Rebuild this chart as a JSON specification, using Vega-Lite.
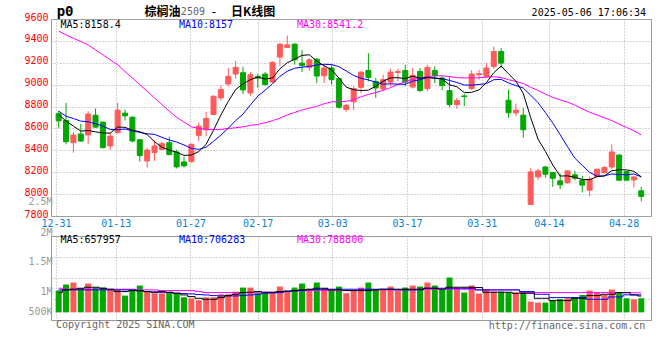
{
"$schema":"https://vega.github.io/schema/vega-lite/v6.json",
"background":"white",
"padding":{"left":0,"top":4,"right":5,"bottom":5},
"bounds":"flush",
"spacing":20,
"config":{"view":{"stroke":"#999999","strokeWidth":1},"font":"DejaVu Sans Mono","axis":{"labelOverlap":false}},
"datasets":{"k":[
{"i":0,"d":"12-31","o":8734,"c":8670,"h":8760,"l":8606,"v":878000,"m5":8727,"m10":8758,"m30":9490,"vm5":797000,"vm10":905000,"vm30":972000},
{"i":1,"d":"01-02","o":8673,"c":8479,"h":8834,"l":8455,"v":1121000,"m5":8667,"m10":8712,"m30":9455,"vm5":905000,"vm10":905000,"vm30":932000},
{"i":2,"d":"01-03","o":8470,"c":8540,"h":8567,"l":8379,"v":1202000,"m5":8621,"m10":8691,"m30":9424,"vm5":932000,"vm10":905000,"vm30":932000},
{"i":3,"d":"01-06","o":8549,"c":8485,"h":8643,"l":8476,"v":972000,"m5":8576,"m10":8667,"m30":9394,"vm5":972000,"vm10":905000,"vm30":932000},
{"i":4,"d":"01-07","o":8540,"c":8731,"h":8758,"l":8455,"v":1161000,"m5":8581,"m10":8661,"m30":9364,"vm5":1013000,"vm10":905000,"vm30":932000},
{"i":5,"d":"01-08","o":8721,"c":8612,"h":8782,"l":8606,"v":999000,"m5":8569,"m10":8643,"m30":9318,"vm5":1013000,"vm10":905000,"vm30":932000},
{"i":6,"d":"01-09","o":8658,"c":8425,"h":8660,"l":8418,"v":999000,"m5":8559,"m10":8621,"m30":9273,"vm5":972000,"vm10":905000,"vm30":932000},
{"i":7,"d":"01-10","o":8440,"c":8530,"h":8561,"l":8403,"v":905000,"m5":8557,"m10":8591,"m30":9227,"vm5":932000,"vm10":905000,"vm30":932000},
{"i":8,"d":"01-13","o":8561,"c":8767,"h":8834,"l":8555,"v":905000,"m5":8613,"m10":8588,"m30":9182,"vm5":837000,"vm10":905000,"vm30":932000},
{"i":9,"d":"01-14","o":8740,"c":8715,"h":8773,"l":8673,"v":675000,"m5":8610,"m10":8595,"m30":9121,"vm5":837000,"vm10":905000,"vm30":932000},
{"i":10,"d":"01-15","o":8703,"c":8485,"h":8709,"l":8473,"v":905000,"m5":8584,"m10":8577,"m30":9061,"vm5":878000,"vm10":905000,"vm30":932000},
{"i":11,"d":"01-16","o":8497,"c":8352,"h":8500,"l":8297,"v":1080000,"m5":8570,"m10":8564,"m30":9000,"vm5":864000,"vm10":878000,"vm30":905000},
{"i":12,"d":"01-17","o":8303,"c":8403,"h":8424,"l":8243,"v":864000,"m5":8544,"m10":8551,"m30":8940,"vm5":837000,"vm10":837000,"vm30":905000},
{"i":13,"d":"01-20","o":8379,"c":8440,"h":8491,"l":8303,"v":770000,"m5":8479,"m10":8546,"m30":8879,"vm5":810000,"vm10":824000,"vm30":905000},
{"i":14,"d":"01-21","o":8409,"c":8461,"h":8480,"l":8400,"v":770000,"m5":8428,"m10":8519,"m30":8818,"vm5":837000,"vm10":810000,"vm30":878000},
{"i":15,"d":"01-22","o":8470,"c":8361,"h":8524,"l":8355,"v":824000,"m5":8403,"m10":8494,"m30":8758,"vm5":810000,"vm10":797000,"vm30":878000},
{"i":16,"d":"01-23","o":8385,"c":8249,"h":8406,"l":8234,"v":770000,"m5":8383,"m10":8476,"m30":8703,"vm5":770000,"vm10":770000,"vm30":878000},
{"i":17,"d":"01-24","o":8294,"c":8258,"h":8343,"l":8243,"v":608000,"m5":8354,"m10":8449,"m30":8658,"vm5":702000,"vm10":756000,"vm30":878000},
{"i":18,"d":"01-27","o":8297,"c":8455,"h":8461,"l":8288,"v":567000,"m5":8357,"m10":8418,"m30":8615,"vm5":635000,"vm10":743000,"vm30":878000},
{"i":19,"d":"02-05","o":8537,"c":8621,"h":8652,"l":8485,"v":486000,"m5":8389,"m10":8409,"m30":8600,"vm5":567000,"vm10":716000,"vm30":837000},
{"i":20,"d":"02-06","o":8588,"c":8691,"h":8752,"l":8530,"v":608000,"m5":8455,"m10":8429,"m30":8591,"vm5":527000,"vm10":702000,"vm30":797000},
{"i":21,"d":"02-07","o":8727,"c":8894,"h":8903,"l":8721,"v":608000,"m5":8584,"m10":8483,"m30":8588,"vm5":527000,"vm10":675000,"vm30":797000},
{"i":22,"d":"02-10","o":8879,"c":8955,"h":8994,"l":8855,"v":729000,"m5":8723,"m10":8539,"m30":8591,"vm5":594000,"vm10":662000,"vm30":797000},
{"i":23,"d":"02-11","o":9006,"c":9076,"h":9152,"l":8985,"v":729000,"m5":8847,"m10":8602,"m30":8600,"vm5":675000,"vm10":662000,"vm30":797000},
{"i":24,"d":"02-12","o":9097,"c":9158,"h":9218,"l":9055,"v":837000,"m5":8955,"m10":8672,"m30":8606,"vm5":729000,"vm10":662000,"vm30":797000},
{"i":25,"d":"02-13","o":9109,"c":8952,"h":9164,"l":8915,"v":999000,"m5":9007,"m10":8731,"m30":8615,"vm5":797000,"vm10":675000,"vm30":797000},
{"i":26,"d":"02-14","o":8924,"c":9091,"h":9115,"l":8900,"v":999000,"m5":9046,"m10":8815,"m30":8628,"vm5":810000,"vm10":702000,"vm30":797000},
{"i":27,"d":"02-17","o":9076,"c":9061,"h":9097,"l":8970,"v":770000,"m5":9068,"m10":8895,"m30":8637,"vm5":837000,"vm10":729000,"vm30":810000},
{"i":28,"d":"02-18","o":9097,"c":9000,"h":9115,"l":8994,"v":770000,"m5":9052,"m10":8950,"m30":8652,"vm5":810000,"vm10":770000,"vm30":810000},
{"i":29,"d":"02-19","o":9024,"c":9203,"h":9212,"l":9015,"v":810000,"m5":9061,"m10":9008,"m30":8671,"vm5":810000,"vm10":783000,"vm30":810000},
{"i":30,"d":"02-20","o":9252,"c":9370,"h":9379,"l":9170,"v":1040000,"m5":9145,"m10":9076,"m30":8694,"vm5":837000,"vm10":797000,"vm30":837000},
{"i":31,"d":"02-21","o":9340,"c":9364,"h":9449,"l":9334,"v":837000,"m5":9200,"m10":9123,"m30":8724,"vm5":864000,"vm10":837000,"vm30":837000},
{"i":32,"d":"02-24","o":9370,"c":9227,"h":9379,"l":9182,"v":999000,"m5":9233,"m10":9150,"m30":8746,"vm5":878000,"vm10":864000,"vm30":864000},
{"i":33,"d":"02-25","o":9197,"c":9176,"h":9318,"l":9115,"v":1161000,"m5":9268,"m10":9160,"m30":8769,"vm5":905000,"vm10":878000,"vm30":864000},
{"i":34,"d":"02-26","o":9158,"c":9227,"h":9242,"l":9127,"v":945000,"m5":9273,"m10":9167,"m30":8786,"vm5":932000,"vm10":905000,"vm30":878000},
{"i":35,"d":"02-27","o":9233,"c":9079,"h":9242,"l":9015,"v":1202000,"m5":9215,"m10":9180,"m30":8802,"vm5":972000,"vm10":918000,"vm30":878000},
{"i":36,"d":"02-28","o":9082,"c":9152,"h":9182,"l":9015,"v":972000,"m5":9172,"m10":9186,"m30":8826,"vm5":972000,"vm10":932000,"vm30":878000},
{"i":37,"d":"03-03","o":9152,"c":9046,"h":9182,"l":9000,"v":905000,"m5":9136,"m10":9184,"m30":8843,"vm5":905000,"vm10":932000,"vm30":878000},
{"i":38,"d":"03-04","o":9055,"c":8794,"h":9067,"l":8782,"v":1040000,"m5":9060,"m10":9164,"m30":8844,"vm5":905000,"vm10":932000,"vm30":878000},
{"i":39,"d":"03-05","o":8773,"c":8812,"h":8824,"l":8752,"v":770000,"m5":8977,"m10":9125,"m30":8847,"vm5":878000,"vm10":932000,"vm30":878000},
{"i":40,"d":"03-06","o":8843,"c":8964,"h":8985,"l":8767,"v":864000,"m5":8954,"m10":9084,"m30":8863,"vm5":878000,"vm10":932000,"vm30":878000},
{"i":41,"d":"03-07","o":8976,"c":9115,"h":9121,"l":8924,"v":999000,"m5":8946,"m10":9059,"m30":8889,"vm5":878000,"vm10":932000,"vm30":905000},
{"i":42,"d":"03-10","o":9130,"c":9066,"h":9288,"l":9030,"v":1202000,"m5":8950,"m10":9043,"m30":8911,"vm5":878000,"vm10":932000,"vm30":905000},
{"i":43,"d":"03-11","o":9030,"c":8970,"h":9061,"l":8879,"v":905000,"m5":8985,"m10":9023,"m30":8928,"vm5":905000,"vm10":932000,"vm30":905000},
{"i":44,"d":"03-12","o":8961,"c":9046,"h":9091,"l":8940,"v":905000,"m5":9032,"m10":9004,"m30":8948,"vm5":932000,"vm10":932000,"vm30":905000},
{"i":45,"d":"03-13","o":9024,"c":9115,"h":9146,"l":8985,"v":1040000,"m5":9062,"m10":9008,"m30":8973,"vm5":932000,"vm10":932000,"vm30":905000},
{"i":46,"d":"03-14","o":9112,"c":9121,"h":9146,"l":9030,"v":864000,"m5":9064,"m10":9005,"m30":9002,"vm5":932000,"vm10":905000,"vm30":905000},
{"i":47,"d":"03-17","o":9130,"c":9024,"h":9182,"l":8985,"v":999000,"m5":9055,"m10":9003,"m30":9028,"vm5":932000,"vm10":905000,"vm30":905000},
{"i":48,"d":"03-18","o":8979,"c":9085,"h":9152,"l":8964,"v":1080000,"m5":9078,"m10":9032,"m30":9049,"vm5":932000,"vm10":905000,"vm30":905000},
{"i":49,"d":"03-19","o":9121,"c":8946,"h":9152,"l":8934,"v":1040000,"m5":9058,"m10":9045,"m30":9059,"vm5":932000,"vm10":905000,"vm30":932000},
{"i":50,"d":"03-20","o":8964,"c":9158,"h":9182,"l":8940,"v":1202000,"m5":9067,"m10":9065,"m30":9075,"vm5":972000,"vm10":972000,"vm30":932000},
{"i":51,"d":"03-21","o":9130,"c":9082,"h":9167,"l":9015,"v":1080000,"m5":9059,"m10":9061,"m30":9081,"vm5":972000,"vm10":972000,"vm30":932000},
{"i":52,"d":"03-24","o":9061,"c":8991,"h":9076,"l":8949,"v":905000,"m5":9052,"m10":9054,"m30":9082,"vm5":932000,"vm10":972000,"vm30":932000},
{"i":53,"d":"03-25","o":8946,"c":8818,"h":9076,"l":8794,"v":1404000,"m5":8999,"m10":9039,"m30":9074,"vm5":1013000,"vm10":972000,"vm30":932000},
{"i":54,"d":"03-26","o":8818,"c":8855,"h":8879,"l":8779,"v":972000,"m5":8981,"m10":9020,"m30":9064,"vm5":1013000,"vm10":972000,"vm30":932000},
{"i":55,"d":"03-27","o":8897,"c":8891,"h":8915,"l":8803,"v":797000,"m5":8927,"m10":8997,"m30":9062,"vm5":1013000,"vm10":972000,"vm30":932000},
{"i":56,"d":"03-28","o":8964,"c":9097,"h":9133,"l":8952,"v":1080000,"m5":8930,"m10":8995,"m30":9062,"vm5":1013000,"vm10":972000,"vm30":932000},
{"i":57,"d":"03-31","o":9091,"c":9100,"h":9136,"l":9046,"v":756000,"m5":8952,"m10":9002,"m30":9063,"vm5":999000,"vm10":905000,"vm30":905000},
{"i":58,"d":"04-01","o":9076,"c":9152,"h":9197,"l":9067,"v":932000,"m5":9019,"m10":9009,"m30":9068,"vm5":810000,"vm10":905000,"vm30":905000},
{"i":59,"d":"04-02","o":9167,"c":9303,"h":9349,"l":9146,"v":837000,"m5":9109,"m10":9045,"m30":9072,"vm5":810000,"vm10":905000,"vm30":905000},
{"i":60,"d":"04-03","o":9303,"c":9197,"h":9334,"l":9152,"v":837000,"m5":9170,"m10":9049,"m30":9066,"vm5":810000,"vm10":905000,"vm30":905000},
{"i":61,"d":"04-07","o":8858,"c":8743,"h":8955,"l":8697,"v":797000,"m5":9099,"m10":9015,"m30":9045,"vm5":810000,"vm10":905000,"vm30":905000},
{"i":62,"d":"04-08","o":8743,"c":8767,"h":8827,"l":8712,"v":797000,"m5":9032,"m10":8992,"m30":9030,"vm5":770000,"vm10":905000,"vm30":905000},
{"i":63,"d":"04-09","o":8721,"c":8588,"h":8788,"l":8515,"v":837000,"m5":8920,"m10":8969,"m30":9010,"vm5":770000,"vm10":837000,"vm30":797000},
{"i":64,"d":"04-10","o":7906,"c":8203,"h":8236,"l":7906,"v":432000,"m5":8700,"m10":8904,"m30":8976,"vm5":770000,"vm10":837000,"vm30":797000},
{"i":65,"d":"04-11","o":8157,"c":8212,"h":8233,"l":8130,"v":392000,"m5":8503,"m10":8836,"m30":8947,"vm5":567000,"vm10":729000,"vm30":797000},
{"i":66,"d":"04-14","o":8248,"c":8182,"h":8258,"l":8151,"v":392000,"m5":8390,"m10":8745,"m30":8915,"vm5":567000,"vm10":729000,"vm30":797000},
{"i":67,"d":"04-15","o":8197,"c":8145,"h":8200,"l":8066,"v":459000,"m5":8266,"m10":8649,"m30":8885,"vm5":473000,"vm10":594000,"vm30":797000},
{"i":68,"d":"04-16","o":8121,"c":8085,"h":8188,"l":8045,"v":540000,"m5":8165,"m10":8543,"m30":8861,"vm5":473000,"vm10":594000,"vm30":797000},
{"i":69,"d":"04-17","o":8103,"c":8212,"h":8218,"l":8097,"v":567000,"m5":8167,"m10":8433,"m30":8841,"vm5":473000,"vm10":594000,"vm30":797000},
{"i":70,"d":"04-18","o":8176,"c":8145,"h":8212,"l":8127,"v":567000,"m5":8154,"m10":8328,"m30":8814,"vm5":567000,"vm10":594000,"vm30":797000},
{"i":71,"d":"04-21","o":8127,"c":8082,"h":8167,"l":8015,"v":702000,"m5":8134,"m10":8262,"m30":8779,"vm5":567000,"vm10":594000,"vm30":797000},
{"i":72,"d":"04-22","o":8036,"c":8136,"h":8161,"l":7979,"v":878000,"m5":8132,"m10":8199,"m30":8748,"vm5":675000,"vm10":527000,"vm30":797000},
{"i":73,"d":"04-23","o":8161,"c":8227,"h":8233,"l":8151,"v":810000,"m5":8160,"m10":8163,"m30":8724,"vm5":675000,"vm10":527000,"vm30":797000},
{"i":74,"d":"04-24","o":8197,"c":8242,"h":8258,"l":8188,"v":702000,"m5":8166,"m10":8167,"m30":8697,"vm5":729000,"vm10":527000,"vm30":797000},
{"i":75,"d":"04-25","o":8248,"c":8385,"h":8454,"l":8227,"v":918000,"m5":8214,"m10":8184,"m30":8672,"vm5":729000,"vm10":621000,"vm30":797000},
{"i":76,"d":"04-28","o":8357,"c":8127,"h":8363,"l":8121,"v":810000,"m5":8223,"m10":8179,"m30":8639,"vm5":797000,"vm10":621000,"vm30":797000},
{"i":77,"d":"04-29","o":8206,"c":8127,"h":8212,"l":8120,"v":567000,"m5":8222,"m10":8177,"m30":8609,"vm5":797000,"vm10":706000,"vm30":789000},
{"i":78,"d":"04-30","o":8130,"c":8157,"h":8164,"l":8060,"v":527000,"m5":8208,"m10":8184,"m30":8579,"vm5":702000,"vm10":706000,"vm30":789000},
{"i":79,"d":"05-06","o":8030,"c":7979,"h":8067,"l":7934,"v":567000,"m5":8158,"m10":8157,"m30":8541,"vm5":658000,"vm10":706000,"vm30":789000}
]},
"data":{"name":"k"},
"vconcat":[
{"width":600,"height":197,
"layer":[
{"mark":{"type":"rule","strokeWidth":1},
"encoding":{
"x":{"field":"i","type":"quantitative","scale":{"domain":[-0.36,79.64],"nice":false,"zero":false},
"axis":{"values":[-0.36,7.741,17.868,26.983,37.109,47.236,57.363,66.476,76.603],"tickCount":30,"labelExpr":"datum.value < 3 ? '12-31' : datum.value < 12 ? '01-13' : datum.value < 22 ? '01-27' : datum.value < 32 ? '02-17' : datum.value < 42 ? '03-03' : datum.value < 52 ? '03-17' : datum.value < 62 ? '03-31' : datum.value < 70 ? '04-14' : '04-28'","title":null,"grid":true,"gridColor":"#aaaaaa","gridDash":[1,2],"ticks":false,"domain":false,"labelColor":"#0a7fd6","labelFont":"DejaVu Sans Mono","labelFontSize":10,"labelPadding":2,"labelFlush":false,"labelOverlap":false}},
"y":{"field":"l","type":"quantitative","scale":{"domain":[7800,9600],"nice":false,"zero":false},
"axis":{"values":[7800,8000,8200,8400,8600,8800,9000,9200,9400,9600],"tickCount":30,"format":"d","title":null,"grid":true,"gridColor":"#aaaaaa","gridDash":[1,2],"ticks":false,"domain":false,"labelColor":"#ff0000","labelFont":"DejaVu Sans Mono","labelFontSize":10,"labelPadding":3,"labelOffset":-2,"minExtent":50,"maxExtent":50,"labelFlush":false,"labelOverlap":false}},
"y2":{"field":"h"},
"color":{"condition":{"test":"datum.c >= datum.o","value":"#ff5a5a"},"value":"#00a800"}}},
{"mark":{"type":"bar","size":5,"strokeWidth":1},
"encoding":{
"x":{"field":"i","type":"quantitative"},
"y":{"field":"o","type":"quantitative"},
"y2":{"field":"c"},
"color":{"condition":{"test":"datum.c >= datum.o","value":"#ff5a5a"},"value":"#00a800"},
"stroke":{"condition":{"test":"datum.c >= datum.o","value":"#ff5a5a"},"value":"#00a800"}}},
{"mark":{"type":"line","color":"#ff00ff","strokeWidth":1},"encoding":{"x":{"field":"i","type":"quantitative"},"y":{"field":"m30","type":"quantitative"}}},
{"mark":{"type":"line","color":"#0000ff","strokeWidth":1},"encoding":{"x":{"field":"i","type":"quantitative"},"y":{"field":"m10","type":"quantitative"}}},
{"mark":{"type":"line","color":"#000000","strokeWidth":1},"encoding":{"x":{"field":"i","type":"quantitative"},"y":{"field":"m5","type":"quantitative"}}},
{"data":{"values":[{}]},"mark":{"type":"text","align":"left","baseline":"middle","font":"DejaVu Sans Mono","fontSize":10,"color":"#000000"},"encoding":{"x":{"datum":0.25},"y":{"datum":9543},"text":{"value":"MA5:8158.4"}}},
{"data":{"values":[{}]},"mark":{"type":"text","align":"left","baseline":"middle","font":"DejaVu Sans Mono","fontSize":10,"color":"#0000ff"},"encoding":{"x":{"datum":16.31},"y":{"datum":9543},"text":{"value":"MA10:8157"}}},
{"data":{"values":[{}]},"mark":{"type":"text","align":"left","baseline":"middle","font":"DejaVu Sans Mono","fontSize":10,"color":"#ff00ff"},"encoding":{"x":{"datum":32.31},"y":{"datum":9543},"text":{"value":"MA30:8541.2"}}},
{"data":{"values":[{}]},"mark":{"type":"text","align":"left","baseline":"middle","font":"DejaVu Sans Mono","fontSize":14,"fontWeight":"bold","color":"#000000"},"encoding":{"x":{"datum":-0.27},"y":{"datum":9664},"text":{"value":"p0"}}},
{"data":{"values":[{}]},"mark":{"type":"text","align":"left","baseline":"middle","font":"Noto Sans CJK SC","fontSize":12,"fontWeight":"bold","color":"#000000"},"encoding":{"x":{"datum":11.64},"y":{"datum":9664},"text":{"value":"棕榈油"}}},
{"data":{"values":[{}]},"mark":{"type":"text","align":"left","baseline":"middle","font":"DejaVu Sans Mono","fontSize":10,"color":"#666666"},"encoding":{"x":{"datum":16.57},"y":{"datum":9660},"text":{"value":"2509"}}},
{"data":{"values":[{}]},"mark":{"type":"text","align":"center","baseline":"middle","font":"DejaVu Sans Mono","fontSize":12,"color":"#000000"},"encoding":{"x":{"datum":21.04},"y":{"datum":9664},"text":{"value":"-"}}},
{"data":{"values":[{}]},"mark":{"type":"text","align":"left","baseline":"middle","font":"Noto Sans CJK SC","fontSize":12,"fontWeight":"bold","color":"#000000"},"encoding":{"x":{"datum":23.37},"y":{"datum":9664},"text":{"value":"日K线图"}}},
{"data":{"values":[{}]},"mark":{"type":"text","align":"right","baseline":"middle","font":"DejaVu Sans Mono","fontSize":10,"color":"#000000"},"encoding":{"x":{"datum":79.64},"y":{"datum":9653},"text":{"value":"2025-05-06 17:06:34"}}}
]},
{"width":600,"height":84,
"layer":[
{"mark":{"type":"bar","size":6},
"encoding":{
"x":{"field":"i","type":"quantitative","scale":{"domain":[-0.36,79.64],"nice":false,"zero":false},
"axis":{"values":[-0.36,7.741,17.868,26.983,37.109,47.236,57.363,66.476,76.603],"tickCount":30,"labels":false,"title":null,"grid":true,"gridColor":"#aaaaaa","gridDash":[1,2],"ticks":false,"domain":false}},
"y":{"field":"v","type":"quantitative","scale":{"domain":[-308000,3077000],"nice":false,"zero":false},
"axis":{"values":[538200,1384500,2230700],"tickCount":10,"labels":false,"title":null,"grid":true,"gridColor":"#aaaaaa","gridDash":[1,2],"ticks":false,"domain":false,"minExtent":50,"maxExtent":50}},
"y2":{"datum":0},
"color":{"condition":{"test":"datum.c >= datum.o","value":"#ff5a5a"},"value":"#00a800"}}},
{"mark":{"type":"line","color":"#ff00ff","strokeWidth":1,"interpolate":"step"},"encoding":{"x":{"field":"i","type":"quantitative"},"y":{"field":"vm30","type":"quantitative"}}},
{"mark":{"type":"line","color":"#0000ff","strokeWidth":1,"interpolate":"step"},"encoding":{"x":{"field":"i","type":"quantitative"},"y":{"field":"vm10","type":"quantitative"}}},
{"mark":{"type":"line","color":"#000000","strokeWidth":1,"interpolate":"step"},"encoding":{"x":{"field":"i","type":"quantitative"},"y":{"field":"vm5","type":"quantitative"}}},
{"data":{"values":[{}]},"mark":{"type":"text","align":"left","baseline":"middle","font":"DejaVu Sans Mono","fontSize":10,"color":"#000000"},"encoding":{"x":{"datum":0.25},"y":{"datum":2924000},"text":{"value":"MA5:657957"}}},
{"data":{"values":[{}]},"mark":{"type":"text","align":"left","baseline":"middle","font":"DejaVu Sans Mono","fontSize":10,"color":"#0000ff"},"encoding":{"x":{"datum":16.31},"y":{"datum":2924000},"text":{"value":"MA10:706283"}}},
{"data":{"values":[{}]},"mark":{"type":"text","align":"left","baseline":"middle","font":"DejaVu Sans Mono","fontSize":10,"color":"#ff00ff"},"encoding":{"x":{"datum":32.31},"y":{"datum":2924000},"text":{"value":"MA30:788800"}}},
{"data":{"values":[{}]},"mark":{"type":"text","align":"right","baseline":"middle","font":"DejaVu Sans Mono","fontSize":10,"color":"#999999"},"encoding":{"x":{"datum":-0.83},"y":{"datum":4455000},"text":{"value":"2.5M"}}},
{"data":{"values":[{}]},"mark":{"type":"text","align":"right","baseline":"middle","font":"DejaVu Sans Mono","fontSize":10,"color":"#999999"},"encoding":{"x":{"datum":-0.83},"y":{"datum":3218000},"text":{"value":"2M"}}},
{"data":{"values":[{}]},"mark":{"type":"text","align":"right","baseline":"middle","font":"DejaVu Sans Mono","fontSize":10,"color":"#999999"},"encoding":{"x":{"datum":-0.83},"y":{"datum":2037000},"text":{"value":"1.5M"}}},
{"data":{"values":[{}]},"mark":{"type":"text","align":"right","baseline":"middle","font":"DejaVu Sans Mono","fontSize":10,"color":"#999999"},"encoding":{"x":{"datum":-0.83},"y":{"datum":828000},"text":{"value":"1M"}}},
{"data":{"values":[{}]},"mark":{"type":"text","align":"right","baseline":"middle","font":"DejaVu Sans Mono","fontSize":10,"color":"#999999"},"encoding":{"x":{"datum":-0.83},"y":{"datum":6000},"text":{"value":"500K"}}},
{"data":{"values":[{}]},"mark":{"type":"text","align":"left","baseline":"middle","font":"DejaVu Sans Mono","fontSize":10,"color":"#666666"},"encoding":{"x":{"datum":-0.36},"y":{"datum":-501000},"text":{"value":"Copyright 2025 SINA.COM"}}},
{"data":{"values":[{}]},"mark":{"type":"text","align":"right","baseline":"middle","font":"DejaVu Sans Mono","fontSize":10,"color":"#666666"},"encoding":{"x":{"datum":79.55},"y":{"datum":-530000},"text":{"value":"http://finance.sina.com.cn"}}}
]}
]
}
